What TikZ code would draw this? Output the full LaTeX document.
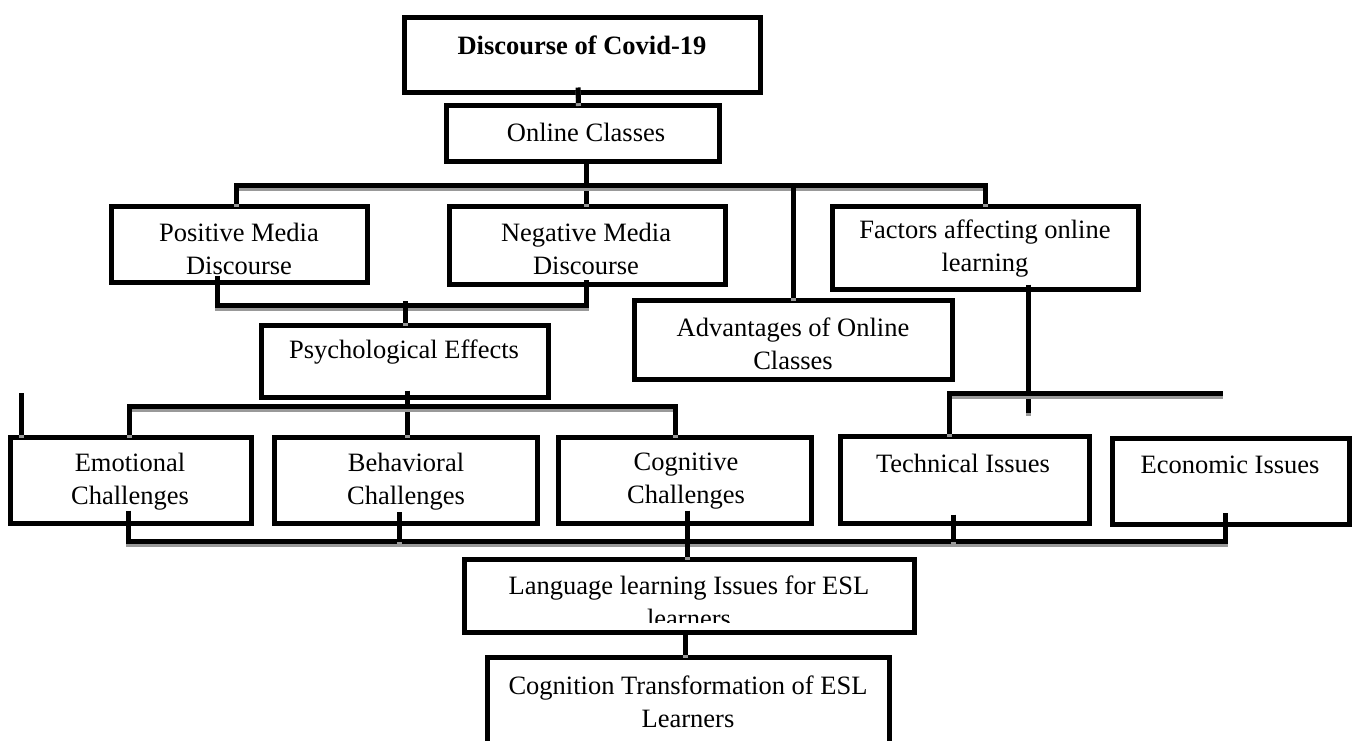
\documentclass[tikz,border=0pt]{standalone}
\usepackage{fontspec}
\setmainfont{Liberation Serif}
\begin{document}
\begin{tikzpicture}[x=1pt,y=-1pt,
  box/.style={draw=black, line width=5pt, inner sep=0pt, rectangle},
  txt/.style={font=\fontsize{26.5}{33}\selectfont, align=center, inner sep=0pt, text=black},
  conn/.style={draw=black, line width=5pt,
    preaction={draw=black!40, line width=5pt, transform canvas={yshift=-3pt}}}]
\clip (0,0) rectangle (1354,740);
\fill[white] (0,0) rectangle (1354,740);
% boxes
\node[box, minimum width=356pt, minimum height=75pt] (disc) at (582.5,55) {};
\node[box, minimum width=273pt, minimum height=56pt] (online) at (583,133.5) {};
\node[box, minimum width=256pt, minimum height=76pt] (pos) at (239.5,244.5) {};
\node[box, minimum width=276pt, minimum height=78pt] (neg) at (587.5,245.5) {};
\node[box, minimum width=306pt, minimum height=83pt] (fac) at (985.5,248) {};
\node[box, minimum width=287pt, minimum height=72pt] (psych) at (405,361.5) {};
\node[box, minimum width=318pt, minimum height=79pt] (adv) at (793.5,340) {};
\node[box, minimum width=241pt, minimum height=86pt] (emo) at (131,480.5) {};
\node[box, minimum width=263pt, minimum height=86pt] (beh) at (406,480) {};
\node[box, minimum width=253pt, minimum height=86pt] (cog) at (685,480) {};
\node[box, minimum width=249pt, minimum height=87pt] (tech) at (965,480) {};
\node[box, minimum width=237pt, minimum height=86pt] (eco) at (1231,481.5) {};
\node[box, minimum width=450pt, minimum height=73pt] (lang) at (689.5,596) {};
\node[box, minimum width=402pt, minimum height=105pt] (cogn) at (688.5,710) {};
% texts
\node[txt, font=\fontsize{26.5}{33}\selectfont\bfseries] (disc-t) at (582,45) {Discourse of Covid-19};
\node[txt] (online-t) at (586,132) {Online Classes};
\node[txt] (pos-t) at (239,249) {Positive Media\\Discourse};
\node[txt] (neg-t) at (586,249) {Negative Media\\Discourse};
\node[txt] (fac-t) at (985,249) {Factors affecting online\\learning};
\node[txt] (psych-t) at (404,352) {Psychological Effects};
\node[txt] (adv-t) at (793,344) {Advantages of Online\\Classes};
\node[txt] (emo-t) at (130,481.5) {Emotional\\Challenges};
\node[txt] (beh-t) at (406,481.5) {Behavioral\\Challenges};
\node[txt] (cog-t) at (686,481.5) {Cognitive\\Challenges};
\node[txt] (tech-t) at (963,463) {Technical Issues};
\node[txt] (eco-t) at (1230,465) {Economic Issues};
\begin{scope}
\clip (465,562) rectangle (912,622);
\node[txt] (lang-t) at (689,601.5) {Language learning Issues for ESL\\learners};
\end{scope}
\node[txt] (cogn-t) at (688,701.5) {Cognition Transformation of ESL\\Learners};
% connectors
\draw[conn] ([xshift=-4.5pt,yshift=7.5pt]disc.south) -- ([xshift=-4.5pt]online.north);
\draw[conn] ([xshift=3pt]online.south) -- ([xshift=-1.5pt]neg.north);
\draw[conn] ([xshift=-3.5pt]pos.north) -- ++(0,-18.5) -| (fac.north);
\draw[conn] ([xshift=-0.5pt]adv.north) -- ++(0,-112.5);
\draw[conn] ([xshift=-22.5pt,yshift=9.5pt]pos.south) |- ([xshift=-1.5pt,yshift=-18.5pt]neg.south) -- ([xshift=-1.5pt,yshift=7.5pt]neg.south);
\draw[conn] (psych.north) -- ++(0,-22.5);
\draw[conn] ([xshift=2pt,yshift=9.5pt]psych.south) -- ([xshift=1pt]beh.north);
\draw[conn] ([xshift=-1.5pt]emo.north) -- ++(0,-28.5) -| ([xshift=-10pt]cog.north);
\draw[conn] ([xshift=-110pt]emo.north) -- ++(0,-42);
\draw[conn] ([xshift=42.5pt,yshift=7.5pt]fac.south) -- ++(0,128);
\draw[conn] ([xshift=-16pt]tech.north) -- ++(0,-40.5) -- ++(274,0);
\draw[conn] ([xshift=-3pt,yshift=15.5pt]emo.south) |- ([xshift=-6pt,yshift=-14.5pt]eco.south) -- ([xshift=-6pt,yshift=14.5pt]eco.south);
\draw[conn] ([xshift=-7pt,yshift=13.5pt]beh.south) -- ++(0,29.5);
\draw[conn] ([xshift=-12pt,yshift=11.5pt]tech.south) -- ++(0,27.5);
\draw[conn] ([xshift=2pt,yshift=15pt]cog.south) -- ([xshift=-2.5pt]lang.north);
\draw[conn] ([xshift=-4.5pt]lang.south) -- ([xshift=-3.5pt]cogn.north);
\end{tikzpicture}
\end{document}
